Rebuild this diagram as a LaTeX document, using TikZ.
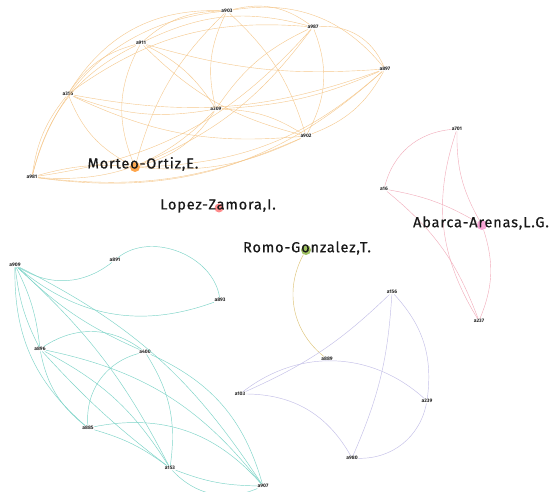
\documentclass[tikz,border=0pt]{standalone}
\usepackage{fontspec}
\setmainfont{Fira Sans}
\newfontfamily\authfont[LetterSpace=6,FakeBold=0.6]{Fira Sans}
\definecolor{orangeedge}{RGB}{246,200,140}
\definecolor{tealedge}{RGB}{125,212,200}
\definecolor{pinkedge}{RGB}{242,170,185}
\definecolor{violetedge}{RGB}{196,192,232}
\definecolor{oliveedge}{RGB}{222,196,120}
\begin{document}
\begin{tikzpicture}[x=1pt,y=-1pt,
  lbl/.style={inner sep=0.5pt,font=\fontsize{5}{6}\selectfont\bfseries,text=black!85},
  author/.style={inner sep=0pt,font=\authfont\fontsize{14.5}{16}\selectfont,text=black!90},
  dot/.style={circle,inner sep=0pt,minimum size=#1},
  eo/.style={draw=orangeedge,line width=0.4pt},
  ec/.style={draw=tealedge,line width=0.45pt},
  ep/.style={draw=pinkedge,line width=0.4pt},
  ev/.style={draw=violetedge,line width=0.45pt},
  ey/.style={draw=oliveedge,line width=0.45pt}]
\useasboundingbox (0,0) rectangle (550,492);
\fill[white] (0,0) rectangle (550,492);

% author hubs
\node[dot=10pt,fill=orange!70] (mo) at (135,167) {};
\node[dot=9pt,fill=red!45] (lz) at (219,208) {};
\node[dot=10pt,fill=olive!55!green!60] (rg) at (306,250) {};
\node[dot=10pt,fill=magenta!35] (aa) at (482,225) {};

% orange cluster
\node[lbl] (a903) at (227,11) {a903};
\node[lbl] (a911) at (141,43) {a911};
\node[lbl] (a355) at (68,94) {a355};
\node[lbl] (a309) at (216,109) {a309};
\node[lbl] (a987) at (313,27) {a987};
\node[lbl] (a897) at (385,69) {a897};
\node[lbl] (a902) at (306,136) {a902};
\node[lbl] (a981) at (32,177) {a981};

\draw[eo] (a903) to[bend right=30] (a355);
\draw[eo] (a903) to[bend right=20] (a911);
\draw[eo] (a903) to[bend right=35] (a981);
\draw[eo] (a903) to[bend right=15] (mo);
\draw[eo] (a903) to[bend right=20] (a309);
\draw[eo] (a903) to[bend left=25] (a987);
\draw[eo] (a903) to[bend left=30] (a897);
\draw[eo] (a903) to[bend left=15] (a902);
\draw[eo] (a911) to[bend right=20] (a355);
\draw[eo] (a911) to[bend right=25] (a981);
\draw[eo] (a911) to[bend right=25] (mo);
\draw[eo] (a911) to[bend left=15] (a309);
\draw[eo] (a911) to[bend left=20] (a987);
\draw[eo] (a911) to[bend right=10] (a897);
\draw[eo] (a911) to[bend right=15] (a902);
\draw[eo] (a355) to[bend right=15] (a981);
\draw[eo] (a355) to[bend right=20] (mo);
\draw[eo] (a355) to[bend right=15] (a309);
\draw[eo] (a355) to[bend left=20] (a987);
\draw[eo] (a355) to[bend right=15] (a897);
\draw[eo] (a355) to[bend right=15] (a902);
\draw[eo] (a981) to[bend left=10] (mo);
\draw[eo] (a981) to[bend right=25] (a309);
\draw[eo] (a981) to[bend right=20] (a987);
\draw[eo] (a981) to[bend right=25] (a897);
\draw[eo] (a981) to[bend right=15] (a902);
\draw[eo] (mo) to[bend right=20] (a309);
\draw[eo] (mo) to[bend right=15] (a987);
\draw[eo] (mo) to[bend right=20] (a897);
\draw[eo] (mo) to[bend right=15] (a902);
\draw[eo] (a309) to[bend left=15] (a987);
\draw[eo] (a309) to[bend right=10] (a897);
\draw[eo] (a309) to[bend left=15] (a902);
\draw[eo] (a987) to[bend left=35] (a897);
\draw[eo] (a987) to[bend left=25] (a902);
\draw[eo] (a897) to[bend left=20] (a902);

% pink cluster
\node[lbl] (a701) at (457,129) {a701};
\node[lbl] (a16) at (384,189) {a16};
\node[lbl] (a237) at (479,321) {a237};
\draw[ep] (a701) to[bend right=35] (a16);
\draw[ep] (a701) to[bend right=25] (a237);
\draw[ep] (a701) to[bend right=15] (aa);
\draw[ep] (a16) to[bend left=10] (aa);
\draw[ep] (a16) to[bend left=15] (a237);
\draw[ep] (aa) to[bend left=20] (a237);

% teal cluster
\node[lbl] (a909) at (15,265) {a909};
\node[lbl] (a891) at (115,260) {a891};
\node[lbl] (a893) at (220,300) {a893};
\node[lbl] (a896) at (40,349) {a896};
\node[lbl] (a400) at (145,352) {a400};
\node[lbl] (a885) at (88,428) {a885};
\node[lbl] (a153) at (170,468) {a153};
\node[lbl] (a907) at (263,486) {a907};
\draw[ec] (a909) to[bend right=35] (a891);
\draw[ec] (a909) to[bend right=30] (a893);
\draw[ec] (a891) to[bend left=60] (a893);
\draw[ec] (a909) to[bend right=10] (a896);
\draw[ec] (a909) to[bend left=10] (a896);
\draw[ec] (a909) to[bend right=10] (a400);
\draw[ec] (a909) to[bend right=25] (a885);
\draw[ec] (a909) to[bend left=10] (a153);
\draw[ec] (a909) to[bend left=15] (a907);
\draw[ec] (a896) to[bend left=35] (a400);
\draw[ec] (a896) to[bend right=20] (a885);
\draw[ec] (a896) to[bend left=15] (a153);
\draw[ec] (a896) to[bend left=20] (a907);
\draw[ec] (a896) to[bend right=5] (a153);
\draw[ec] (a400) to[bend right=40] (a885);
\draw[ec] (a400) to[bend left=20] (a153);
\draw[ec] (a400) to[bend left=25] (a907);
\draw[ec] (a885) to[bend left=10] (a153);
\draw[ec] (a885) to[bend left=30] (a907);
\draw[ec] (a153) to[bend right=10] (a907);
\draw[ec] (a153) to[bend right=35] (a907);

% violet cluster
\node[lbl] (a156) at (392,292) {a156};
\node[lbl] (a889) at (327,359) {a889};
\node[lbl] (a103) at (240,394) {a103};
\node[lbl] (a239) at (427,401) {a239};
\node[lbl] (a980) at (352,458) {a980};
\draw[ey] (rg) to[bend right=40] (a889);
\draw[ev] (a103) to[bend right=10] (a156);
\draw[ev] (a103) to[bend left=40] (a239);
\draw[ev] (a103) to[bend left=30] (a980);
\draw[ev] (a156) to[bend left=10] (a980);
\draw[ev] (a156) to[bend left=25] (a239);
\draw[ev] (a980) to[bend right=40] (a239);

% author names
\node[author] at (143,164) {Morteo-Ortiz,E.};
\node[author] at (218,206) {Lopez-Zamora,I.};
\node[author] at (307,248) {Romo-Gonzalez,T.};
\node[author] at (481,223) {Abarca-Arenas,L.G.};
\end{tikzpicture}
\end{document}
